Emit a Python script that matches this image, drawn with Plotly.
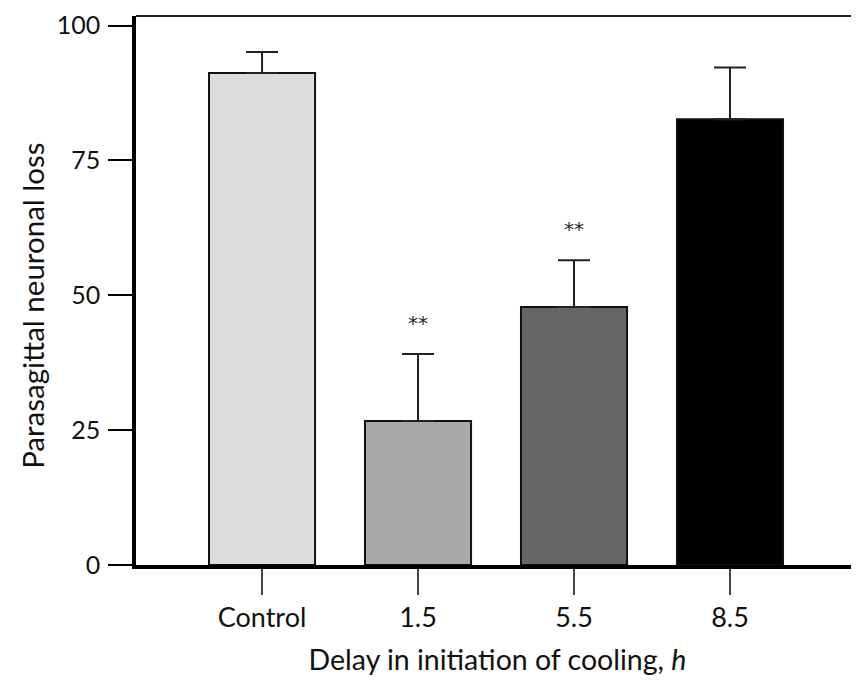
import plotly.graph_objects as go

categories = ["Control", "1.5", "5.5", "8.5"]
loss_mean = [91.2, 26.7, 47.8, 82.6]
loss_err_upper = [3.9, 12.4, 8.7, 9.6]
significance = ["", "**", "**", ""]
bar_colors = ["#dcdcdc", "#a9a9a9", "#666666", "#000000"]
y_ticks = [0, 25, 50, 75, 100]

FONT = "Lato, 'Liberation Sans', sans-serif"

x_idx = list(range(len(categories)))

fig = go.Figure()
fig.add_trace(go.Bar(
    x=x_idx,
    y=loss_mean,
    width=0.68,
    marker=dict(color=bar_colors, line=dict(color="#111111", width=2)),
    error_y=dict(type="data", symmetric=False, array=loss_err_upper,
                 arrayminus=[0] * len(loss_mean),
                 color="#222222", thickness=2, width=16),
    showlegend=False,
    hoverinfo="skip",
))

for i, s in enumerate(significance):
    if s:
        fig.add_annotation(x=i, y=loss_mean[i] + loss_err_upper[i], text=s,
                           showarrow=False, yshift=31,
                           font=dict(family="'DejaVu Sans', sans-serif", size=20, color="#2a2a2a"))

# y-axis title (placed as annotation to match its off-centre position)
fig.add_annotation(xref="paper", yref="paper", x=0, y=0.472, xshift=-103,
                   xanchor="center", yanchor="middle", textangle=-90,
                   text="Parasagittal neuronal loss", showarrow=False,
                   font=dict(family=FONT, size=29.5, color="#111111"))

fig.add_shape(type="line", xref="paper", yref="paper", x0=0, x1=1, y0=1, y1=1,
              line=dict(color="#222222", width=2))

# page body has an 8px margin; figure is sized/offset to compensate
fig.update_layout(
    width=851, height=673,
    margin=dict(l=128, r=0, t=8, b=116),
    paper_bgcolor="white", plot_bgcolor="white",
    font=dict(family=FONT, size=24, color="#111111"),
)
fig.update_xaxes(
    range=[-0.808, 3.827],
    tickmode="array", tickvals=x_idx, ticktext=categories,
    ticks="outside", ticklen=26, tickwidth=1.5, tickcolor="#444444",
    showline=True, linewidth=4, linecolor="black",
    showgrid=False, zeroline=False,
    tickfont=dict(size=27),
    title=dict(text="Delay in initiation of cooling, <i>h</i>", font=dict(size=28.5), standoff=19),
)
fig.update_yaxes(
    range=[0, 101.76],
    tickmode="array", tickvals=y_ticks,
    ticks="outside", ticklen=24, tickwidth=2, tickcolor="black",
    showline=True, linewidth=3.5, linecolor="black",
    showgrid=False, zeroline=False,
    tickfont=dict(size=25),
    ticklabelstandoff=3,
)

fig.write_html("out.html")
